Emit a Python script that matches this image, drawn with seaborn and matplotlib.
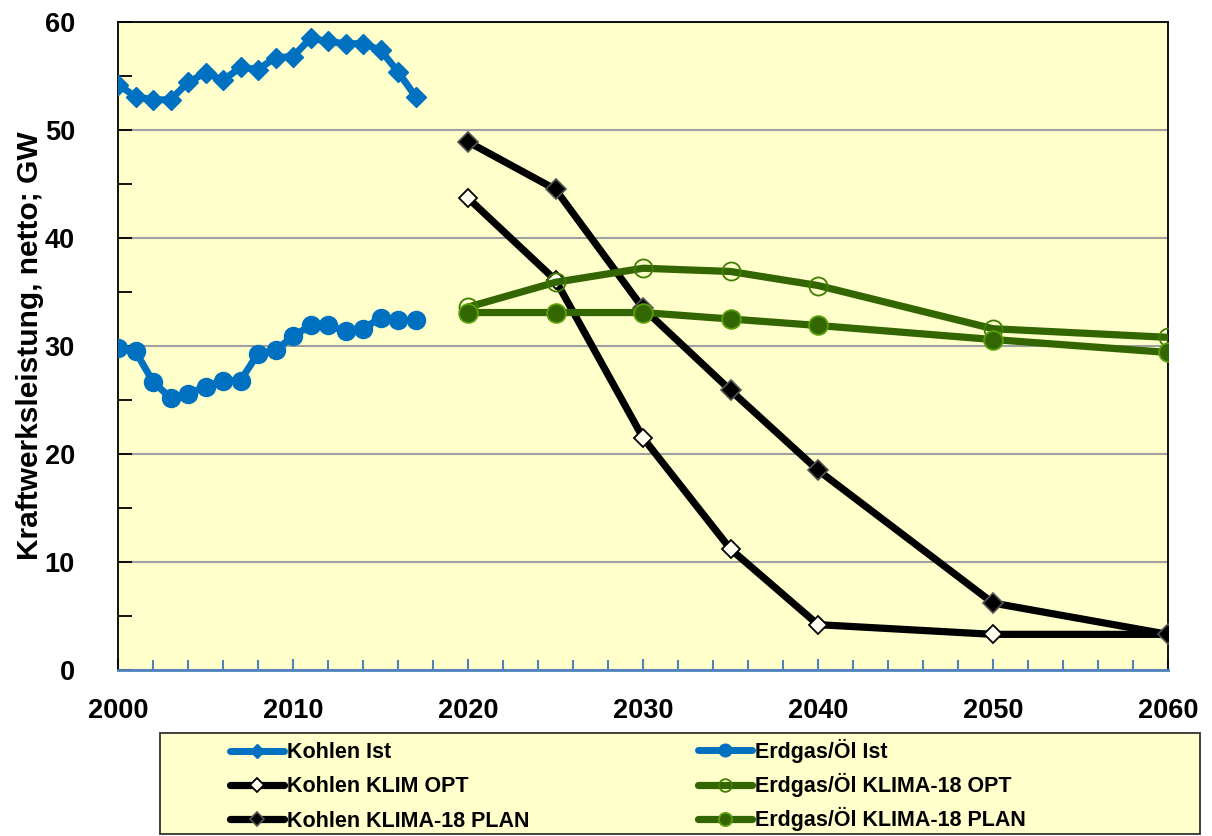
import pandas as pd
import seaborn as sns
import matplotlib.pyplot as plt
from matplotlib.lines import Line2D
from matplotlib.patches import Rectangle
from matplotlib.ticker import MultipleLocator

years_ist = list(range(2000, 2018))
kohlen_ist = [54.2, 53.1, 52.8, 52.8, 54.4, 55.3, 54.6, 55.8, 55.6, 56.7,
              56.8, 58.5, 58.2, 58.0, 58.0, 57.4, 55.4, 53.1]
erdgas_ist = [29.8, 29.5, 26.7, 25.2, 25.6, 26.2, 26.8, 26.8, 29.3, 29.6,
              30.9, 31.9, 31.9, 31.4, 31.6, 32.6, 32.4, 32.4]

years_szen = [2020, 2025, 2030, 2035, 2040, 2050, 2060]
kohlen_opt = [43.7, 36.1, 21.5, 11.2, 4.2, 3.3, 3.3]
kohlen_plan = [48.9, 44.5, 33.5, 25.9, 18.5, 6.2, 3.3]
erdgas_opt = [33.6, 35.9, 37.2, 36.9, 35.6, 31.6, 30.8]
erdgas_plan = [33.1, 33.1, 33.1, 32.5, 31.9, 30.6, 29.4]

labels_kohle = ["Kohlen Ist", "Kohlen KLIM OPT", "Kohlen KLIMA-18 PLAN"]
labels_gas = ["Erdgas/Öl Ist", "Erdgas/Öl KLIMA-18 OPT", "Erdgas/Öl KLIMA-18 PLAN"]

BLUE = "#0070C0"
GREEN = "#336600"
BG = "#FFFFCC"

sns.set_theme(style="white")
plt.rcParams["font.family"] = ["Liberation Sans", "DejaVu Sans"]
plt.rcParams["text.color"] = "black"

fig = plt.figure(figsize=(12.12, 8.36), dpi=100)
ax = fig.add_axes([118 / 1212, 1 - 670 / 836, 1050 / 1212, 648 / 836])
ax.set_facecolor(BG)

# styles per series (dict order = drawing order: blue, black, green)
styles = {
    "Kohlen Ist": dict(color=BLUE, marker="D", ms=10, mfc=BLUE, mec=BLUE, lw=5),
    "Erdgas/Öl Ist": dict(color=BLUE, marker="o", ms=13, mfc=BLUE, mec=BLUE, lw=5),
    "Kohlen KLIM OPT": dict(color="black", marker="D", ms=9.5, mfc="#FFFFF0", mec="black", mew=1.3, lw=5.2),
    "Kohlen KLIMA-18 PLAN": dict(color="black", marker="D", ms=10.5, mfc="black", mec="#555555", mew=1.2, lw=5.2),
    "Erdgas/Öl KLIMA-18 OPT": dict(color=GREEN, marker="o", ms=13, mfc="none", mec="#3E7F00", mew=1.3, lw=5.2),
    "Erdgas/Öl KLIMA-18 PLAN": dict(color=GREEN, marker="o", ms=13.5, mfc=GREEN, mec="#5A9E0A", mew=1.3, lw=5.2),
}
series = {
    "Kohlen Ist": (years_ist, kohlen_ist),
    "Erdgas/Öl Ist": (years_ist, erdgas_ist),
    "Kohlen KLIM OPT": (years_szen, kohlen_opt),
    "Kohlen KLIMA-18 PLAN": (years_szen, kohlen_plan),
    "Erdgas/Öl KLIMA-18 OPT": (years_szen, erdgas_opt),
    "Erdgas/Öl KLIMA-18 PLAN": (years_szen, erdgas_plan),
}

for name, (xs, ys) in series.items():
    df = pd.DataFrame({"Jahr": xs, "GW": ys})
    st = styles[name]
    sns.lineplot(data=df, x="Jahr", y="GW", ax=ax, sort=False,
                 color=st["color"], linewidth=st["lw"], marker=st["marker"],
                 markersize=st["ms"], markerfacecolor=st["mfc"],
                 markeredgecolor=st["mec"], markeredgewidth=st.get("mew", 1.0),
                 solid_joinstyle="round", solid_capstyle="round", zorder=3)

ax.set_xlim(2000, 2060)
ax.set_ylim(0, 60)
ax.xaxis.set_major_locator(MultipleLocator(10))
ax.xaxis.set_minor_locator(MultipleLocator(2))
ax.yaxis.set_major_locator(MultipleLocator(10))
ax.yaxis.set_minor_locator(MultipleLocator(5))
ax.grid(axis="y", which="major", color="#A0A0A0", linewidth=1.5)
ax.grid(axis="x", visible=False)
ax.set_axisbelow(True)

for side in ["left", "top", "right"]:
    ax.spines[side].set_color("black")
    ax.spines[side].set_linewidth(1.3)
ax.spines["bottom"].set_color("#4F81BD")
ax.spines["bottom"].set_linewidth(2)

ax.tick_params(axis="x", which="both", direction="in", colors="#4F81BD",
               top=False, bottom=True, width=1.5)
ax.tick_params(axis="x", which="major", length=8, pad=20, labelcolor="black", labelsize=19.5)
ax.tick_params(axis="x", which="minor", length=7)
ax.tick_params(axis="y", which="both", direction="in", colors="black",
               left=True, right=False, width=1.3)
ax.tick_params(axis="y", which="major", length=10, pad=31, labelsize=19.5)
ax.tick_params(axis="y", which="minor", length=10)
for lab in ax.get_xticklabels() + ax.get_yticklabels():
    lab.set_fontweight("bold")

ax.set_xlabel("")
ax.set_ylabel("Kraftwerksleistung, netto; GW", fontsize=21.5, fontweight="bold", color="black")
ax.yaxis.set_label_coords(-0.084, 0.5)
ax.yaxis.label.set_va("center")

# legend box below the chart
fig.patches.append(Rectangle((160 / 1212, 1 - 834 / 836), 1040 / 1212, 101 / 836,
                             transform=fig.transFigure, facecolor=BG,
                             edgecolor="#333333", linewidth=1.3, zorder=0))


def make_handles(names):
    out = []
    for name in names:
        st = styles[name]
        out.append(Line2D([], [], color=st["color"], lw=st["lw"], marker=st["marker"],
                          ms=st["ms"] * 0.7, mfc=st["mfc"], mec=st["mec"],
                          mew=st.get("mew", 1.0)))
    return out


leg_font = dict(weight="bold", size=15.5)
leg1 = fig.legend(make_handles(labels_kohle), labels_kohle, frameon=False,
                  loc="center left", bbox_to_anchor=(230 / 1212, 1 - 787 / 836),
                  prop=leg_font, handlelength=2.5, handletextpad=0.15,
                  labelspacing=0.61, borderpad=0, borderaxespad=0, labelcolor="black")
leg2 = fig.legend(make_handles(labels_gas), labels_gas, frameon=False,
                  loc="center left", bbox_to_anchor=(698 / 1212, 1 - 785 / 836),
                  prop=leg_font, handlelength=2.5, handletextpad=0.15,
                  labelspacing=0.48, borderpad=0, borderaxespad=0, labelcolor="black")

fig.savefig("out.png", dpi=100)
